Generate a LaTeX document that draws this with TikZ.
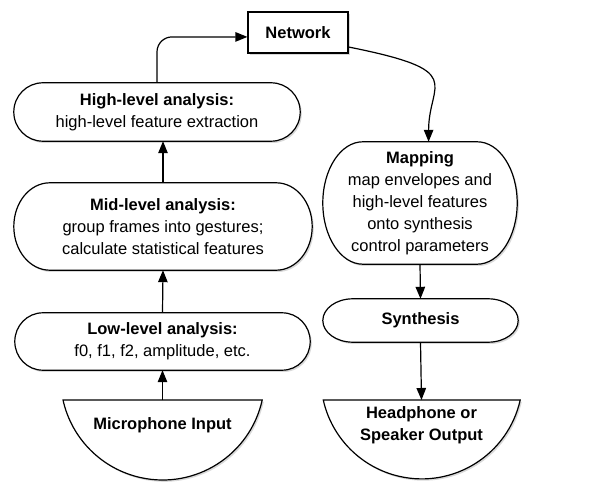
\documentclass[tikz,border=0pt]{standalone}
\usepackage{fontspec}
\setmainfont{Liberation Sans}
\usetikzlibrary{arrows.meta,shadows,calc}

\pgfdeclarelayer{background}
\pgfsetlayers{background,main}

\tikzset{
  labeltext/.style={draw=none, inner sep=0pt, align=center,
    font=\fontsize{16.5}{22}\selectfont},
  boxline/.style={draw=black, line width=1.2pt, fill=white,
    drop shadow={shadow xshift=1.6pt, shadow yshift=-1.8pt, opacity=0.3}},
  arr/.style={line width=1.2pt, -{Triangle[length=12pt,width=9.5pt]}},
}

% Rounded box with elliptical ends, traced round the border of a text node
\newcommand{\stadiumbox}[2]{%
  \path[boxline] let \p1=(#1.north west), \p2=(#1.south east),
    \n1={(\y1-\y2)/2} in
    (\x1+#2pt,\y1) -- (\x2-#2pt,\y1)
    arc[start angle=90, end angle=-90, x radius=#2pt, y radius=\n1]
    -- (\x1+#2pt,\y2)
    arc[start angle=270, end angle=90, x radius=#2pt, y radius=\n1]
    -- cycle;}

\begin{document}
\begin{tikzpicture}[x=1pt, y=1pt]
\useasboundingbox (0,0) rectangle (610,482);

% text and anchors of every block
\node[labeltext, boxline, minimum width=100, minimum height=41] (net) at (298,449.5) {\textbf{Network}};
\node[labeltext, minimum width=286, minimum height=58] (high) at (157,370)
  {\textbf{High-level analysis:}\\high-level feature extraction};
\node[labeltext, minimum width=298, minimum height=87] (mid) at (163,255.5)
  {\textbf{Mid-level analysis:}\\group frames into gestures;\\calculate statistical features};
\node[labeltext, minimum width=295, minimum height=57] (low) at (162.5,140.5)
  {\textbf{Low-level analysis:}\\f0, f1, f2, amplitude, etc.};
\node[labeltext, minimum width=199, minimum height=50, anchor=north] (mic) at (162.5,82)
  {\textbf{Microphone Input}};
\node[labeltext, minimum width=194, minimum height=122] (map) at (420,279)
  {\textbf{Mapping}\\map envelopes and\\high-level features\\onto synthesis\\control parameters};
\node[labeltext, minimum width=195, minimum height=43] (syn) at (420.5,161.5)
  {\textbf{Synthesis}};
\node[labeltext, minimum width=197, minimum height=50, anchor=north] (head) at (421.5,82)
  {\textbf{Headphone or}\\\textbf{Speaker Output}};

% block outlines behind the text
\begin{pgfonlayer}{background}
  \stadiumbox{high}{29}
  \stadiumbox{mid}{36}
  \stadiumbox{low}{28}
  \stadiumbox{map}{40}
  \stadiumbox{syn}{30}
  \path[boxline] (mic.north east)
    arc[start angle=-12.46, end angle=-167.54, radius=102] -- cycle;
  \path[boxline] (head.north east)
    arc[start angle=-12.6, end angle=-167.4, radius=100.9] -- cycle;
\end{pgfonlayer}

% connectors
\draw[arr] (mic.north) -- (low.south);
\draw[arr] (low.north) -- (mid.south);
\draw[arr] (mid.north) -- (mid.north |- high.south);
\draw[arr, rounded corners=15] (high.north) |- (net.185);
\draw[arr] (net.344) .. controls +(120,-24) and +(0,60) .. (map.82.5);
\draw[arr] (map.south) -- (syn.north);
\draw[arr] (syn.south) -- (head.north);
\end{tikzpicture}
\end{document}
